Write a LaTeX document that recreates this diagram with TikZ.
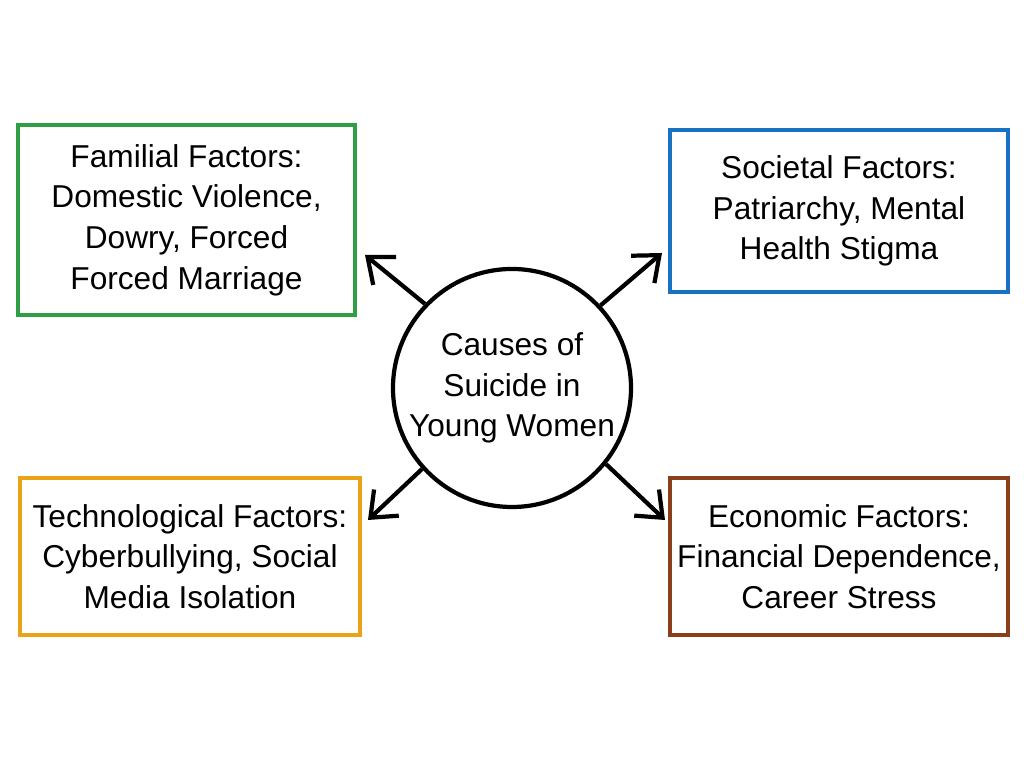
\documentclass[tikz,border=0pt]{standalone}
\usepackage{fontspec}
\setmainfont{Liberation Sans}
\usetikzlibrary{arrows.meta}
\definecolor{famgreen}{HTML}{2F9E44}
\definecolor{socblue}{HTML}{1971C2}
\definecolor{techgold}{HTML}{E8A317}
\definecolor{ecobrown}{HTML}{8B3E1A}
\begin{document}
\begin{tikzpicture}[>={Straight Barb[length=2.2mm,width=3.6mm]},
  factor/.style={draw, line width=1pt, rectangle, align=center, inner sep=0pt},
  every node/.style={font=\fontsize{9.0}{11.6}\selectfont}]
\useasboundingbox (0,0) rectangle (10.24,7.68);

\node(Cause)[draw, line width=1.2pt, circle, inner sep=0pt, minimum size=2.38cm, align=center] at (5.12,3.80) {Causes of\\Suicide in\\Young Women};

\node(Fam)[factor, draw=famgreen, minimum width=3.37cm, minimum height=1.90cm] at (1.865,5.48) {Familial Factors:\\Domestic Violence,\\Dowry, Forced\\Forced Marriage};
\node(Soc)[factor, draw=socblue, minimum width=3.38cm, minimum height=1.62cm] at (8.39,5.57) {Societal Factors:\\Patriarchy, Mental\\Health Stigma};
\node(Tech)[factor, draw=techgold, minimum width=3.40cm, minimum height=1.57cm] at (1.90,2.115) {Technological Factors:\\Cyberbullying, Social\\Media Isolation};
\node(Eco)[factor, draw=ecobrown, minimum width=3.38cm, minimum height=1.57cm] at (8.39,2.115) {Economic Factors:\\Financial Dependence,\\Career Stress};

\coordinate(FamTip) at (3.65,5.13);
\coordinate(SocTip) at (6.62,5.15);
\coordinate(TechTip) at (3.68,2.48);
\coordinate(EcoTip) at (6.65,2.48);

\draw[line width=1.2pt] (Cause.136) edge[->] (FamTip);
\draw[line width=1.2pt] (Cause.43) edge[->] (SocTip);
\draw[line width=1.2pt] (Cause.222) edge[->] (TechTip);
\draw[line width=1.2pt] (Cause.321) edge[->] (EcoTip);
\end{tikzpicture}
\end{document}
